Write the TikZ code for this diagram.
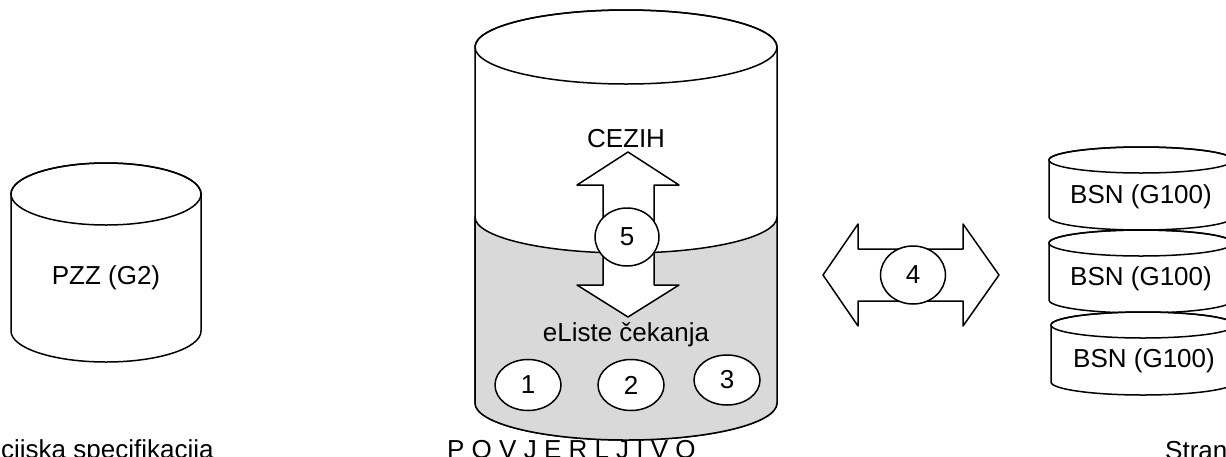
\documentclass[tikz,border=0pt]{standalone}
\usepackage{fontspec}
\setmainfont{Liberation Sans}
\usetikzlibrary{shapes.geometric}
\definecolor{lgray}{RGB}{217,217,217}
\tikzset{
  shapeline/.style={draw=black, line width=1.5pt, line join=round},
  lbl/.style={inner sep=0pt, font=\fontsize{26}{31}\selectfont},
  numell/.style={shapeline, ellipse, fill=white, inner sep=0pt, font=\fontsize{26}{31}\selectfont},
  blockarrow/.style={shapeline, fill=white},
}
% cylinder: cx, top centre y, bottom centre y, rx, ry, fill
\newcommand\mycyl[6]{%
  \filldraw[shapeline, fill=#6] ({#1-#4},{-#2}) -- ({#1-#4},{-#3})
    arc[start angle=180,end angle=360,x radius=#4pt,y radius=#5pt]
    -- ({#1+#4},{-#2})
    arc[start angle=0,end angle=180,x radius=#4pt,y radius=#5pt] -- cycle;
  \draw[shapeline] (#1,{-#2}) ellipse[x radius=#4pt,y radius=#5pt];
}
\begin{document}
\begin{tikzpicture}[x=1pt,y=1pt]
\useasboundingbox (0,0) rectangle (1226,-456);
\fill[white] (0,0) rectangle (1226,-456);

% ---- left cylinder PZZ
\mycyl{106}{194}{331}{95}{31}{white}
\node[lbl, anchor=base] (pzz) at (106,-284) {PZZ (G2)};

% ---- central cylinder
\mycyl{626}{47}{403}{151}{37}{white}
\filldraw[shapeline, fill=lgray] (475,-217)
  arc[start angle=180,end angle=360,x radius=151pt,y radius=36pt]
  -- (777,-403)
  arc[start angle=360,end angle=180,x radius=151pt,y radius=37pt] -- cycle;
\node[lbl, anchor=base] (cezih) at (626,-147) {CEZIH};
\node[lbl, anchor=base] (eliste) at (626,-341) {eListe čekanja};

% vertical double block arrow
\filldraw[blockarrow] (628,-152) -- (679,-185) -- (654,-185) -- (654,-285)
  -- (679,-285) -- (628,-317) -- (577,-285) -- (603,-285) -- (603,-185)
  -- (577,-185) -- cycle;
\node[numell, minimum width=64pt, minimum height=58pt] (n5) at (627,-237) {5};

\node[numell, minimum width=66pt, minimum height=51pt] (n1) at (528,-385) {1};
\node[numell, minimum width=66pt, minimum height=51pt] (n2) at (631,-385) {2};
\node[numell, minimum width=66pt, minimum height=50pt] (n3) at (727,-380) {3};

% ---- horizontal double block arrow
\filldraw[blockarrow] (823,-275) -- (858,-224) -- (858,-249) -- (963,-249)
  -- (963,-224) -- (999,-275) -- (963,-326) -- (963,-301) -- (858,-301)
  -- (858,-326) -- cycle;
\node[numell, minimum width=65pt, minimum height=58pt] (n4) at (913,-275) {4};

% ---- right stacked cylinders BSN
\mycyl{1141}{160}{217}{92}{13}{white}
\node[lbl, anchor=base] (bsn1) at (1141,-203) {BSN (G100)};
\mycyl{1141}{243}{300}{92}{13}{white}
\node[lbl, anchor=base] (bsn2) at (1141,-285) {BSN (G100)};
\mycyl{1143}{325}{382}{92}{13}{white}
\node[lbl, anchor=base] (bsn3) at (1144,-367) {BSN (G100)};

% ---- bottom captions (cut by the picture edge)
\node[lbl, anchor=base west] (capl) at (1,-458) {cijska specifikacija};
\node[lbl, anchor=base west] (capm) at (447,-458) {P O V J E R L J I V O};
\node[lbl, anchor=base west] (capr) at (1165,-459) {Stran};
\end{tikzpicture}
\end{document}
